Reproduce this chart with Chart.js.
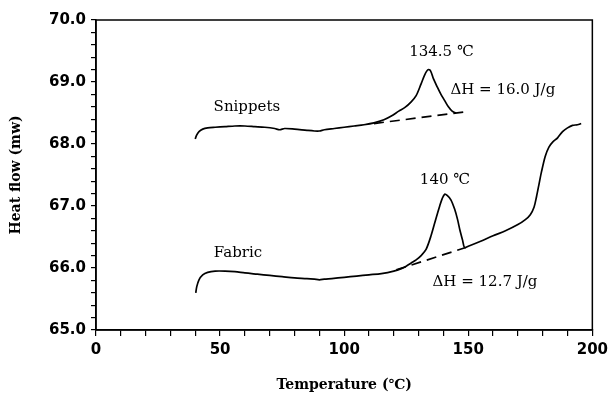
<!DOCTYPE html>
<html>
<head>
<meta charset="utf-8">
<script src="https://cdn.jsdelivr.net/npm/chart.js@4"></script>
<style>
  html, body { margin: 0; padding: 0; background: #fff; }
  #wrap { width: 613px; height: 395px; }
</style>
</head>
<body>
<div id="wrap"><canvas id="dsc"></canvas></div>
<script>
// Snippets curve
const snipT = [40, 40.5, 41.5, 43, 45, 48, 52, 56, 60, 64, 68, 72, 74, 76, 80, 85, 88, 90, 92, 96, 100, 104, 108, 112, 116, 119, 122, 124.5, 127, 129, 131, 132.5, 133.8, 134.8, 136, 137.5, 139, 140.5, 142, 143.5, 145];
const snipH = [68.08, 68.14, 68.2, 68.24, 68.26, 68.27, 68.28, 68.29, 68.29, 68.28, 68.27, 68.25, 68.23, 68.25, 68.24, 68.22, 68.21, 68.21, 68.23, 68.25, 68.27, 68.29, 68.31, 68.34, 68.39, 68.45, 68.53, 68.59, 68.68, 68.78, 68.97, 69.12, 69.2, 69.18, 69.05, 68.92, 68.8, 68.7, 68.6, 68.53, 68.5];
const snipBaseT = [112, 149];
const snipBaseH = [68.33, 68.52];

// Fabric curve
const fabT = [40.2, 40.6, 41.5, 43, 45, 48, 52, 56, 60, 65, 70, 75, 80, 85, 88, 90, 92, 95, 100, 105, 110, 115, 120, 123, 125, 127, 129, 131, 133, 135, 137, 138.5, 139.5, 140.5, 141.5, 143, 144.5, 145.7, 146.7, 147.7, 148.5, 150, 155, 160, 165, 170, 173, 175, 176.5, 177.5, 178.5, 179.5, 181, 182.5, 184, 186, 188, 190, 192, 194, 195.5];
const fabH = [65.6, 65.7, 65.81, 65.89, 65.93, 65.95, 65.95, 65.94, 65.92, 65.9, 65.88, 65.86, 65.84, 65.83, 65.82, 65.81, 65.82, 65.83, 65.85, 65.87, 65.89, 65.91, 65.95, 65.99, 66.03, 66.08, 66.13, 66.2, 66.3, 66.52, 66.8, 67.0, 67.12, 67.19, 67.17, 67.1, 66.95, 66.78, 66.6, 66.45, 66.33, 66.35, 66.43, 66.52, 66.6, 66.7, 66.78, 66.86, 66.98, 67.15, 67.35, 67.55, 67.8, 67.95, 68.03, 68.1, 68.2, 68.26, 68.3, 68.31, 68.33];
const fabBaseT = [121, 149];
const fabBaseH = [65.97, 66.33];

// annotations: text, x, y (data coords), alignment
const noteText = ['Snippets', '134.5 \u2103', '\u0394H = 16.0 J/g', '140 \u2103', 'Fabric', '\u0394H = 12.7 J/g'];
const noteX = [60.8, 139.2, 142.8, 140.6, 57.2, 135.6];
const noteY = [68.6, 69.48, 68.87, 67.42, 66.24, 65.77];
const noteAlign = ['center', 'center', 'left', 'center', 'center', 'left'];

function pts(xs, ys) {
    return xs.map((x, i) => ({ x: x, y: ys[i] }));
}

const serif = '"DejaVu Serif", "Liberation Serif", serif';
const sans = '"DejaVu Sans", sans-serif';

const framePlugin = {
    id: 'frame',
    afterDraw(chart) {
        const { ctx, chartArea: a, scales } = chart;
        ctx.save();
        ctx.strokeStyle = '#000';
        ctx.lineWidth = 1.5;
        ctx.strokeRect(a.left, a.top, a.right - a.left, a.bottom - a.top);
        // text notes
        ctx.fillStyle = '#000';
        ctx.font = '15px ' + serif;
        ctx.textBaseline = 'middle';
        noteText.forEach((t, i) => {
            ctx.textAlign = noteAlign[i];
            ctx.fillText(t, scales.x.getPixelForValue(noteX[i]), scales.y.getPixelForValue(noteY[i]));
        });
        ctx.restore();
    }
};

const lineStyle = { borderColor: '#000', borderWidth: 1.7, pointRadius: 0, fill: false, tension: 0.3 };

new Chart(document.getElementById('dsc'), {
    type: 'line',
    data: {
        datasets: [
            { ...lineStyle, label: 'Snippets', data: pts(snipT, snipH) },
            { ...lineStyle, label: 'Snippets baseline', data: pts(snipBaseT, snipBaseH), borderDash: [10, 6], tension: 0 },
            { ...lineStyle, label: 'Fabric', data: pts(fabT, fabH) },
            { ...lineStyle, label: 'Fabric baseline', data: pts(fabBaseT, fabBaseH), borderDash: [10, 6], tension: 0 }
        ]
    },
    options: {
        responsive: true,
        maintainAspectRatio: false,
        animation: false,
        layout: { padding: { left: 0, right: 18, top: 20, bottom: 0 } },
        plugins: { legend: { display: false }, tooltip: { enabled: false } },
        scales: {
            x: {
                type: 'linear',
                min: 0,
                max: 200,
                afterFit: s => { s.height = 65; },
                ticks: {
                    stepSize: 10,
                    autoSkip: false,
                    maxRotation: 0,
                    padding: 5,
                    color: '#000',
                    font: { family: sans, size: 15, weight: 'bold' },
                    callback: v => (v % 50 === 0 ? String(v) : '')
                },
                grid: { drawOnChartArea: false, tickLength: 6, color: '#000', lineWidth: 1.2 },
                border: { color: '#000', width: 1.5 },
                title: {
                    display: true,
                    text: 'Temperature (\u2103)',
                    color: '#000',
                    font: { family: serif, size: 14, weight: 'bold' },
                    padding: { top: 0, bottom: 1 }
                }
            },
            y: {
                min: 65,
                max: 70,
                afterFit: s => { s.width = 96; },
                ticks: {
                    stepSize: 0.2,
                    autoSkip: false,
                    padding: 5,
                    color: '#000',
                    font: { family: sans, size: 15, weight: 'bold' },
                    callback: v => (Math.abs(v - Math.round(v)) < 1e-6 ? v.toFixed(1) : '')
                },
                grid: { drawOnChartArea: false, tickLength: 5, color: '#000', lineWidth: 1.2 },
                border: { color: '#000', width: 1.5 },
                title: {
                    display: true,
                    text: 'Heat flow (mw)',
                    color: '#000',
                    font: { family: serif, size: 14, weight: 'bold' },
                    padding: { top: 8, bottom: 0 }
                }
            }
        }
    },
    plugins: [framePlugin]
});
</script>
</body>
</html>
